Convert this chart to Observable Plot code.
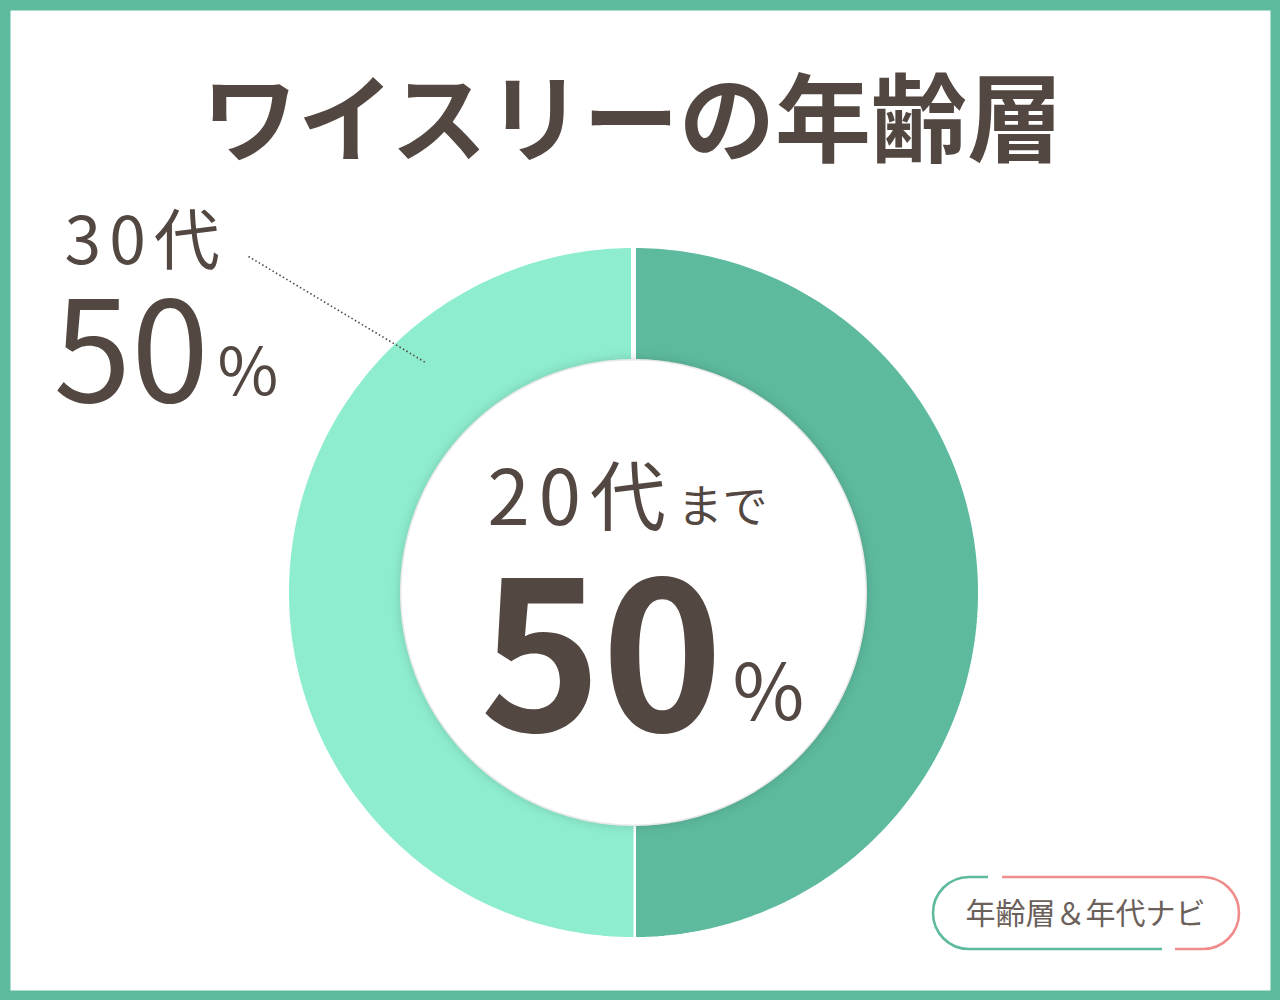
<!DOCTYPE html>
<html lang="ja">
<head>
<meta charset="utf-8">
<script src="https://cdn.jsdelivr.net/npm/d3@7"></script>
<script src="https://cdn.jsdelivr.net/npm/@observablehq/plot@0.6"></script>
<style>
  html, body { margin: 0; padding: 0; background: #ffffff; }
  #chart { width: 1280px; height: 1000px; }
  svg { display: block; }
</style>
</head>
<body>
<div id="chart"></div>
<script>
// ---- data ----
const categories = ["20代まで", "30代"];
const values = [50, 50];
const title = "ワイスリーの年齢層";
const badgeText = "年齢層＆年代ナビ";

// ---- layout / style ----
const W = 1280, H = 1000;
const cx = 633, cy = 592, rOuter = 347, rInner = 231;
const ink = "#534741";
const colorRange = ["#5dba9e", "#8eedcf"];
const jp = "'Noto Sans CJK JP', 'Noto Sans', sans-serif";

// pie angles (clockwise from 12 o'clock)
const pie = d3.pie().sort(null).startAngle(0).endAngle(2 * Math.PI)(values);
const ring = [];
pie.forEach((p, i) => {
  const n = 180;
  for (let k = 0; k <= n; k++) {
    const a = p.startAngle + (p.endAngle - p.startAngle) * k / n;
    ring.push({category: categories[i], x: cx + rOuter * Math.sin(a), y: cy - rOuter * Math.cos(a)});
  }
  for (let k = n; k >= 0; k--) {
    const a = p.startAngle + (p.endAngle - p.startAngle) * k / n;
    ring.push({category: categories[i], x: cx + rInner * Math.sin(a), y: cy - rInner * Math.cos(a)});
  }
});

const idx = (c) => categories.indexOf(c);
const main = categories[0], other = categories[1];
const vMain = values[idx(main)], vOther = values[idx(other)];

const plot = Plot.plot({
  width: W, height: H, margin: 0,
  x: {domain: [0, W], range: [0, W], axis: null},
  y: {domain: [0, H], range: [0, H], axis: null},
  color: {domain: categories, range: colorRange},
  style: {background: "#ffffff", fontFamily: jp},
  marks: [
    // donut slices
    Plot.line(ring, {x: "x", y: "y", z: "category", fill: "category", stroke: "#ffffff", strokeWidth: 5, strokeLinejoin: "miter", curve: "linear"}),
    // inner white disc (soft shadow added after render)
    Plot.dot([{x: cx, y: cy}], {x: "x", y: "y", r: rInner + 1, fill: "#ffffff", stroke: "none"}),
    // title
    Plot.text([title], {x: 632, y: 153, text: d => d, fontSize: 96, fontWeight: 700, fill: ink, lineAnchor: "bottom", textAnchor: "middle"}),
    // outside label for 30代
    Plot.text([other], {x: 64, y: 263, text: d => d, fontSize: 66, fill: ink, lineAnchor: "bottom", textAnchor: "start"}),
    Plot.text([vOther], {x: 53, y: 401, text: d => String(d), fontSize: 140, fill: ink, lineAnchor: "bottom", textAnchor: "start"}),
    Plot.text(["%"], {x: 217, y: 394, text: d => d, fontSize: 66, fill: ink, lineAnchor: "bottom", textAnchor: "start"}),
    // leader line
    Plot.link([{x1: 248, y1: 256, x2: 425, y2: 362}], {x1: "x1", y1: "y1", x2: "x2", y2: "y2", stroke: ink, strokeWidth: 1.6, strokeDasharray: "1.5 2.5"}),
    // center label
    Plot.text([main.replace("まで", "")], {x: 487, y: 524, text: d => d, fontSize: 76, fill: ink, lineAnchor: "bottom", textAnchor: "start"}),
    Plot.text(["まで"], {x: 677, y: 522, text: d => d, fontSize: 45, fill: ink, lineAnchor: "bottom", textAnchor: "start"}),
    Plot.text([vMain], {x: 601, y: 730, text: d => String(d), fontSize: 206, fontWeight: 700, fill: ink, lineAnchor: "bottom", textAnchor: "middle"}),
    Plot.text(["%"], {x: 732, y: 719, text: d => d, fontSize: 78, fill: ink, lineAnchor: "bottom", textAnchor: "start"}),
    // badge text
    Plot.text([badgeText], {x: 1085, y: 914, text: d => d, fontSize: 30, fill: "#6b605a", lineAnchor: "middle", textAnchor: "middle"}),
    // border
    Plot.frame({stroke: "#5dba9e", strokeWidth: 20})
  ]
});

const svg = d3.select(plot);
// soft shadow on inner disc
svg.selectAll("circle").style("filter", "drop-shadow(0px 0px 6px rgba(0,0,0,0.2))");

// letter spacing for the wider rounded digits of the reference
const spacing = new Map([[other, "8px"], [main.replace("まで", ""), "9px"]]);
svg.selectAll("text").each(function () {
  const s = spacing.get(this.textContent);
  if (s) d3.select(this).style("letter-spacing", s);
});

// badge outline (decoration)
svg.append("path")
  .attr("d", "M 988 877 L 969 877 A 36 36 0 0 0 969 949 L 1162 949")
  .attr("fill", "none").attr("stroke", "#5dba9e").attr("stroke-width", 2.6);
svg.append("path")
  .attr("d", "M 1002 877 L 1203 877 A 36 36 0 0 1 1203 949 L 1175 949")
  .attr("fill", "none").attr("stroke", "#f08c8c").attr("stroke-width", 2.6);

document.getElementById("chart").appendChild(plot);
</script>
</body>
</html>
